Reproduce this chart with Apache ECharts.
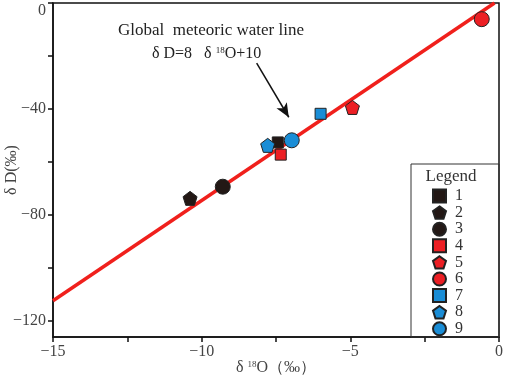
<!DOCTYPE html>
<html>
<head>
<meta charset="utf-8">
<script src="https://cdn.jsdelivr.net/npm/echarts@6/dist/echarts.min.js"></script>
<style>
html, body { margin: 0; padding: 0; background: #fff; }
#chart { width: 505px; height: 377px; }
</style>
</head>
<body>
<div id="chart"></div>
<script>
// sample points [δ18O, δD]
var names = ['1', '2', '3', '4', '5', '6', '7', '8', '9'];
var points = [
    [-7.44, -52.6],
    [-10.39, -73.7],
    [-9.29, -69.3],
    [-7.34, -57.2],
    [-4.93, -39.4],
    [-0.58, -6.1],
    [-6.0, -41.8],
    [-7.78, -53.7],
    [-6.97, -51.8]
];
var shapes = ['square', 'pentagon', 'circle', 'square', 'pentagon', 'circle', 'square', 'pentagon', 'circle'];
var colors = ['#231815', '#231815', '#231815', '#ec1f24', '#ec1f24', '#ec1f24', '#1a8dd6', '#1a8dd6', '#1a8dd6'];
// meteoric water line ends
var gmwl = [[-15, -112.3], [-0.15, 0]];
var arrowFrom = [-8.15, -22.7];
var arrowTo = [-7.07, -43.1];

var xLabels = [-15, -10, -5, 0];
var xTicks = [-15, -12.5, -10, -7.5, -5, -2.5, 0];
var yLabels = [-120, -80, -40, 0];
var yTicks = [-120, -100, -80, -60, -40, -20, 0];

var serif = '"Liberation Serif", "DejaVu Serif", serif';
var pentagon = 'path://M0,-1 L0.951,-0.309 L0.588,0.809 L-0.588,0.809 L-0.951,-0.309 Z';
var symbolMap = { square: 'rect', circle: 'circle', pentagon: pentagon };
var sizeMap = { square: 11, circle: 15, pentagon: 14 };

var series = [{
    name: 'gmwl',
    type: 'line',
    data: gmwl,
    symbol: 'none',
    silent: true,
    lineStyle: { color: '#f0201c', width: 3.5 },
    z: 1,
    markLine: {
        silent: true,
        symbol: ['none', 'arrow'],
        symbolSize: [9, 14],
        label: { show: false },
        lineStyle: { color: '#111', width: 1.5, type: 'solid' },
        data: [[{ coord: arrowFrom }, { coord: arrowTo }]]
    }
}];

for (var i = 0; i < names.length; i++) {
    series.push({
        name: names[i],
        type: 'scatter',
        data: [points[i]],
        symbol: symbolMap[shapes[i]],
        symbolSize: sizeMap[shapes[i]],
        itemStyle: { color: colors[i], borderColor: '#222', borderWidth: 1, opacity: 1 },
        z: 3
    });
}

var option = {
    animation: false,
    grid: {
        left: 53, right: 6, top: 3, bottom: 40,
        outerBoundsMode: 'none',
        containLabel: false,
        show: true,
        borderColor: '#111',
        borderWidth: 1.5
    },
    xAxis: {
        type: 'value',
        min: -15,
        max: 0,
        splitLine: { show: false },
        axisLine: { onZero: false, lineStyle: { color: '#111', width: 1.5 } },
        axisTick: { show: true, length: 5, customValues: xTicks, lineStyle: { color: '#111', width: 1.5 } },
        axisLabel: {
            customValues: xLabels,
            color: '#444',
            fontFamily: serif,
            fontSize: 16,
            margin: 7,
            formatter: function (v) { return v < 0 ? '\u2212' + Math.abs(v) : String(v); }
        },
        name: '{d|δ }{s|18}{d|O（‰）}',
        nameLocation: 'middle',
        nameGap: 23,
        nameMoveOverlap: false,
        nameTextStyle: {
            rich: {
                d: { fontFamily: serif, fontSize: 16, color: '#444' },
                s: { fontFamily: serif, fontSize: 9, color: '#444', verticalAlign: 'top', padding: [0, 0, 6, 0] }
            }
        }
    },
    yAxis: {
        type: 'value',
        min: -126,
        max: 0,
        splitLine: { show: false },
        axisLine: { onZero: false, lineStyle: { color: '#111', width: 1.5 } },
        axisTick: { show: true, length: 5, customValues: yTicks, lineStyle: { color: '#111', width: 1.5 } },
        axisLabel: {
            customValues: yLabels,
            color: '#444',
            fontFamily: serif,
            fontSize: 16,
            margin: 7,
            verticalAlignMinLabel: 'middle',
            verticalAlignMaxLabel: 'top',
            formatter: function (v) { return v < 0 ? '\u2212' + Math.abs(v) : String(v); }
        },
        name: 'δ D(‰)',
        nameLocation: 'middle',
        nameGap: 33,
        nameMoveOverlap: false,
        nameTextStyle: { fontFamily: serif, fontSize: 16, color: '#444' }
    },
    legend: {
        data: names,
        orient: 'vertical',
        left: 432,
        top: 188,
        itemWidth: 13,
        itemHeight: 13,
        itemGap: 0.6,
        padding: 0,
        textStyle: { fontFamily: serif, fontSize: 16, color: '#333', padding: [0, 0, 0, 4] },
        selectedMode: false
    },
    graphic: [
        {
            type: 'rect',
            shape: { x: 411, y: 164, width: 88, height: 173 },
            style: { fill: 'none', stroke: '#333', lineWidth: 1 },
            z: 10
        },
        {
            type: 'text',
            x: 451, y: 177,
            style: { text: 'Legend', fontFamily: serif, fontSize: 17, fill: '#333', align: 'center', verticalAlign: 'middle' },
            z: 10
        },
        {
            type: 'text',
            x: 211, y: 31,
            style: { text: 'Global  meteoric water line', fontFamily: serif, fontSize: 17, fill: '#222', align: 'center', verticalAlign: 'middle' },
            z: 10
        },
        {
            type: 'text',
            x: 152, y: 54,
            style: {
                text: '{d|δ D=8   δ }{s|18}{d|O+10}',
                verticalAlign: 'middle',
                rich: {
                    d: { fontFamily: serif, fontSize: 16, fill: '#222' },
                    s: { fontFamily: serif, fontSize: 9, fill: '#222', verticalAlign: 'top', padding: [0, 0, 6, 0] }
                }
            },
            z: 10
        }
    ],
    series: series
};

var chart = echarts.init(document.getElementById('chart'));
chart.setOption(option);
</script>
</body>
</html>
